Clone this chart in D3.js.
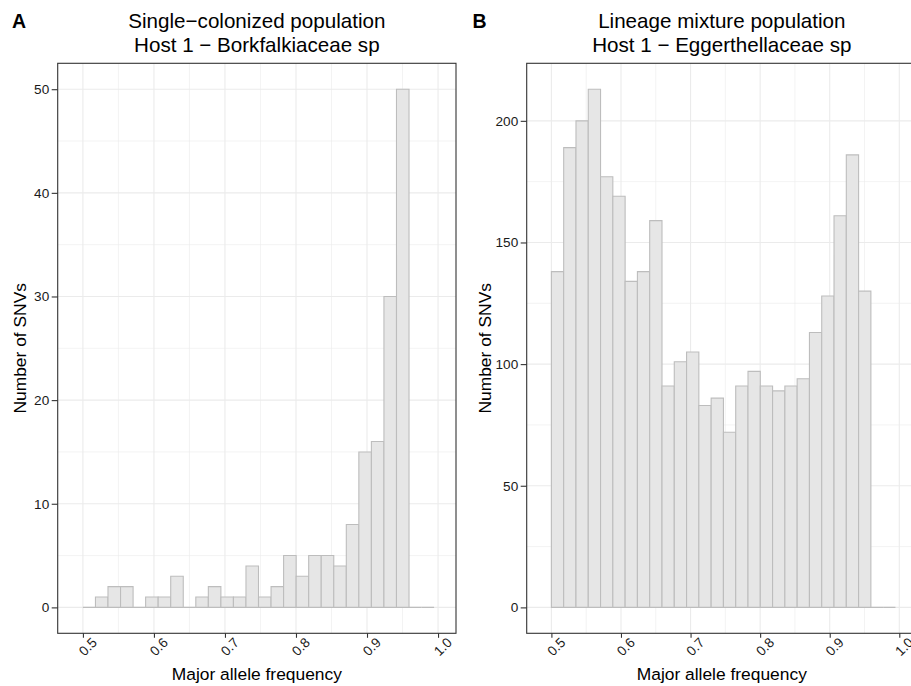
<!DOCTYPE html>
<html>
<head>
<meta charset="utf-8">
<script src="https://cdn.jsdelivr.net/npm/d3@7"></script>
<style>
  html, body { margin: 0; padding: 0; background: #ffffff; }
  svg { display: block; font-family: "Liberation Sans", Arial, Helvetica, sans-serif; }
</style>
</head>
<body>
<svg id="chart" width="911" height="686"></svg>
<script>
// Histogram bins: lower edge of the first bin and the common bin width
const BIN_START = 0.5;
const BIN_WIDTH = 0.01766;

// SNV counts per bin, single-colonized host (Borkfalkiaceae sp)
const countsA = [0, 1, 2, 2, 0, 1, 1, 3, 0, 1, 2, 1, 1, 4, 1, 2, 5, 3, 5, 5, 4, 8, 15, 16, 30, 50, 0, 0];
// SNV counts per bin, lineage mixture host (Eggerthellaceae sp)
const countsB = [138, 189, 200, 213, 177, 169, 134, 138, 159, 91, 101, 105, 83, 86, 72, 91, 97, 91, 89, 91, 94, 113, 128, 161, 186, 130, 0, 0];

const xTicks = [0.5, 0.6, 0.7, 0.8, 0.9, 1.0];
const xMinor = [0.55, 0.65, 0.75, 0.85, 0.95];
const yTicksA = [0, 10, 20, 30, 40, 50];
const yMinorA = [5, 15, 25, 35, 45];
const yTicksB = [0, 50, 100, 150, 200];
const yMinorB = [25, 75, 125, 175];

const panels = [
  { tag: "A", title: ["Single\u2212colonized population", "Host 1 \u2212 Borkfalkiaceae sp"],
    counts: countsA, yTicks: yTicksA, yMinor: yMinorA,
    left: 57.7, right: 456, tagX: 12, yTitleX: 26 },
  { tag: "B", title: ["Lineage mixture population", "Host 1 \u2212 Eggerthellaceae sp"],
    counts: countsB, yTicks: yTicksB, yMinor: yMinorB,
    left: 526.7, right: 916.9, tagX: 472.5, yTitleX: 491 }
];

const plotTop = 63.3, plotBottom = 633.3;
const svg = d3.select("#chart");

panels.forEach(p => {
  const bins = p.counts.map((c, i) => ({
    x0: BIN_START + i * BIN_WIDTH,
    x1: BIN_START + (i + 1) * BIN_WIDTH,
    n: c
  }));
  const maxN = d3.max(p.counts);
  const pad = maxN * 0.05;

  const x = d3.scaleLinear().domain([0.4645, 1.0253]).range([p.left, p.right]);
  const y = d3.scaleLinear().domain([-pad, maxN + pad]).range([plotBottom, plotTop]);

  const g = svg.append("g");
  const clipId = "clip" + p.tag;
  g.append("clipPath").attr("id", clipId)
    .append("rect").attr("x", p.left).attr("y", plotTop)
    .attr("width", p.right - p.left).attr("height", plotBottom - plotTop);

  const plot = g.append("g").attr("clip-path", `url(#${clipId})`);

  // minor grid
  plot.selectAll(".gxm").data(xMinor).join("line")
    .attr("x1", d => x(d)).attr("x2", d => x(d))
    .attr("y1", plotTop).attr("y2", plotBottom)
    .attr("stroke", "#ebebeb").attr("stroke-width", 0.6);
  plot.selectAll(".gym").data(p.yMinor).join("line")
    .attr("y1", d => y(d)).attr("y2", d => y(d))
    .attr("x1", p.left).attr("x2", p.right)
    .attr("stroke", "#ebebeb").attr("stroke-width", 0.6);
  // major grid
  plot.selectAll(".gx").data(xTicks).join("line")
    .attr("x1", d => x(d)).attr("x2", d => x(d))
    .attr("y1", plotTop).attr("y2", plotBottom)
    .attr("stroke", "#ebebeb").attr("stroke-width", 1.1);
  plot.selectAll(".gy").data(p.yTicks).join("line")
    .attr("y1", d => y(d)).attr("y2", d => y(d))
    .attr("x1", p.left).attr("x2", p.right)
    .attr("stroke", "#ebebeb").attr("stroke-width", 1.1);

  // histogram bars as closed paths, so empty bins still show their outline on the baseline
  plot.selectAll(".bar").data(bins).join("path")
    .attr("d", d => {
      const pth = d3.path();
      pth.moveTo(x(d.x0), y(0));
      pth.lineTo(x(d.x0), y(d.n));
      pth.lineTo(x(d.x1), y(d.n));
      pth.lineTo(x(d.x1), y(0));
      pth.closePath();
      return pth.toString();
    })
    .attr("fill", "#e6e6e6")
    .attr("stroke", "#bdbdbd")
    .attr("stroke-width", 1.1);

  // panel border
  g.append("rect")
    .attr("x", p.left).attr("y", plotTop)
    .attr("width", p.right - p.left).attr("height", plotBottom - plotTop)
    .attr("fill", "none").attr("stroke", "#333333").attr("stroke-width", 1.1);

  // y axis
  const yAxis = d3.axisLeft(y).tickValues(p.yTicks).tickSize(6).tickPadding(2.5).tickFormat(d3.format("d"));
  const ya = g.append("g").attr("transform", `translate(${p.left},0)`).call(yAxis);
  ya.select(".domain").remove();
  ya.selectAll(".tick line").attr("stroke", "#333333").attr("stroke-width", 1.1);
  ya.selectAll(".tick text").attr("fill", "#1a1a1a").style("font-size", "13.6px")
    .style("font-family", '"Liberation Sans", Arial, sans-serif');

  // x axis
  const xAxis = d3.axisBottom(x).tickValues(xTicks).tickSize(4.5).tickFormat(d3.format(".1f"));
  const xa = g.append("g").attr("transform", `translate(0,${plotBottom})`).call(xAxis);
  xa.select(".domain").remove();
  xa.selectAll(".tick line").attr("stroke", "#333333").attr("stroke-width", 1.1);
  xa.selectAll(".tick text")
    .attr("fill", "#1a1a1a").style("font-size", "13.6px")
    .style("font-family", '"Liberation Sans", Arial, sans-serif')
    .attr("text-anchor", "middle")
    .attr("dy", null)
    .attr("y", null)
    .attr("transform", "translate(4.5,13.5) rotate(-45)")
    .attr("dominant-baseline", "central");

  const midX = (p.left + p.right) / 2;

  // titles
  const t = g.append("text").attr("text-anchor", "middle")
    .style("font-size", "20.6px").attr("fill", "#000");
  t.append("tspan").attr("x", midX).attr("y", 27.5).text(p.title[0]);
  t.append("tspan").attr("x", midX).attr("y", 52).text(p.title[1]);

  // panel tag
  g.append("text").attr("x", p.tagX).attr("y", 28)
    .style("font-size", "19.5px").style("font-weight", "bold").text(p.tag);

  // axis titles
  g.append("text").attr("x", midX).attr("y", 680)
    .attr("text-anchor", "middle").style("font-size", "17.4px").text("Major allele frequency");
  g.append("text")
    .attr("transform", `translate(${p.yTitleX},${(plotTop + plotBottom) / 2}) rotate(-90)`)
    .attr("text-anchor", "middle").style("font-size", "17.4px").text("Number of SNVs");
});
</script>
</body>
</html>
